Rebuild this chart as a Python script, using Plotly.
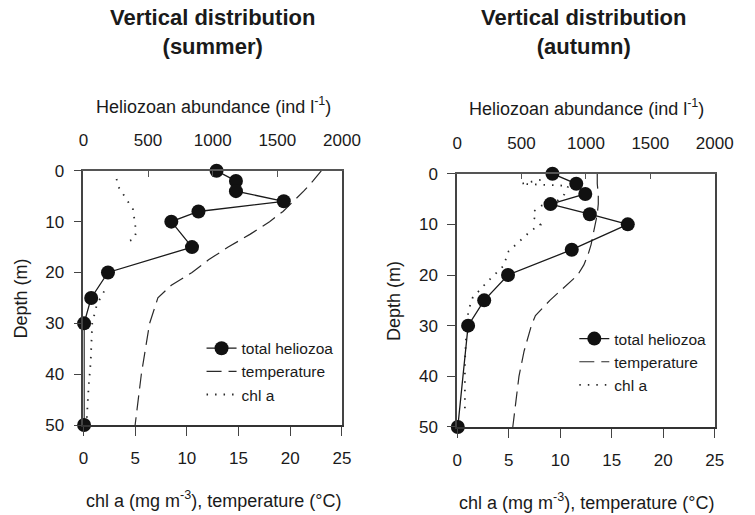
import plotly.graph_objects as go

# ---------------- data ----------------
# Summer
depth_helio_summer = [0, 2, 4, 6, 8, 10, 15, 20, 25, 30, 50]
helio_summer = [1030, 1180, 1180, 1550, 890, 680, 840, 190, 60, 5, 5]

depth_temp_summer = [0, 2, 4, 6, 8, 10, 12.5, 15, 17.5, 20, 22.5, 25, 30, 35, 40, 45, 50]
temp_summer = [23.0, 22.2, 21.3, 20.3, 19.3, 18.0, 16.1, 14.0, 12.1, 10.5, 8.5, 7.2, 6.4, 6.0, 5.6, 5.3, 5.0]

depth_chl_summer = [1.6, 3.2, 7.6, 9.1, 10.6, 12.1, 13.4, 14.1, 20, 23.7, 26.3, 30, 33.8, 37.6, 42.6, 46.4, 49.6]
chl_summer = [3.2, 3.4, 4.8, 4.9, 5.0, 5.1, 4.9, 4.1, None, 2.0, 1.3, 0.85, 0.8, 0.7, 0.5, 0.4, 0.3]

# Autumn
depth_helio_autumn = [0, 2, 4, 6, 8, 10, 15, 20, 25, 30, 50]
helio_autumn = [740, 925, 995, 725, 1030, 1325, 890, 395, 210, 85, 5]

depth_temp_autumn = [0, 2, 4, 6, 8, 10, 12, 14, 16, 18, 20, 22, 25, 28, 30, 35, 40, 45, 50]
temp_autumn = [13.6, 13.6, 13.7, 13.7, 13.6, 13.4, 13.2, 13.0, 12.7, 12.3, 11.7, 10.6, 9.0, 7.6, 7.2, 6.5, 6.0, 5.7, 5.4]

depth_chl_autumn = [1.2, 2.0, 2.4, 4.1, 5.4, 6.3, 7.5, 8.8, 10.1, 11.2, 15.3, 18.2, 21.4, 24.5, 27, 30.8, 37.2, 43.5, 47.3]
chl_autumn = [8.1, 6.2, 10.8, 10.4, 9.7, 8.2, 7.4, 7.5, 8.1, 7.2, 5.0, 4.5, 2.9, 1.5, 1.1, 0.9, 0.75, 0.75, 0.75]

panel_titles = ["Vertical distribution<br>(summer)", "Vertical distribution<br>(autumn)"]
top_title = "Heliozoan abundance (ind l<sup>-1</sup>)"
bottom_title = "chl a (mg m<sup>-3</sup>), temperature (°C)"
y_title = "Depth (m)"
bottom_ticks = [0, 5, 10, 15, 20, 25]
top_ticks = [0, 500, 1000, 1500, 2000]
depth_ticks = [0, 10, 20, 30, 40, 50]

# ---------------- figure ----------------
W, H = 755, 515
FONT = "Liberation Sans, Arial, Helvetica, sans-serif"
INK = "#1a1a1a"

fig = go.Figure()

panels = [
    dict(dh=depth_helio_summer, h=helio_summer, dt=depth_temp_summer, t=temp_summer,
         dc=depth_chl_summer, c=chl_summer, xb="x", xt="x2", y="y", legend="legend"),
    dict(dh=depth_helio_autumn, h=helio_autumn, dt=depth_temp_autumn, t=temp_autumn,
         dc=depth_chl_autumn, c=chl_autumn, xb="x3", xt="x4", y="y2", legend="legend2"),
]

for p in panels:
    fig.add_trace(go.Scatter(
        x=p["h"], y=p["dh"], xaxis=p["xt"], yaxis=p["y"], name="total heliozoa",
        mode="lines+markers", line=dict(color=INK, width=1.3),
        marker=dict(color="#111", size=14, symbol="circle"),
        cliponaxis=False, legend=p["legend"]))
    fig.add_trace(go.Scatter(
        x=p["t"], y=p["dt"], xaxis=p["xb"], yaxis=p["y"], name="temperature",
        mode="lines", line=dict(color="#2a2a2a", width=1.2, dash="15px,7px"),
        legend=p["legend"]))
    fig.add_trace(go.Scatter(
        x=p["c"], y=p["dc"], xaxis=p["xb"], yaxis=p["y"], name="chl a",
        mode="lines", line=dict(color="#2a2a2a", width=1.8, dash="1.5px,7px"),
        connectgaps=False, legend=p["legend"]))

left_x = [81 / W, 348 / W]
right_x = [467 / W, 733 / W]
left_y = [1 - 432 / H, 1 - 168 / H]
right_y = [1 - 434 / H, 1 - 171 / H]

tickfont = dict(family=FONT, size=17, color=INK)

def bottom_axis(domain, anchor):
    return dict(domain=domain, anchor=anchor, range=[0, 25], tickvals=bottom_ticks,
                ticks="outside", ticklen=9, tickcolor="#444", tickwidth=1,
                showline=True, linecolor="#333", linewidth=2, showgrid=False,
                zeroline=False, tickfont=tickfont, ticklabelstandoff=8, fixedrange=True)

def top_axis(domain, anchor, overlay):
    return dict(domain=domain, anchor=anchor, overlaying=overlay, side="top",
                range=[0, 2000], tickvals=top_ticks, ticks="inside", ticklen=6,
                tickcolor="#555", tickwidth=1.2, showline=True, linecolor="#555",
                linewidth=1.5, showgrid=False, zeroline=False, tickfont=tickfont,
                ticklabelstandoff=16, fixedrange=True)

def depth_axis(domain, anchor):
    return dict(domain=domain, anchor=anchor, range=[50, 0], tickvals=depth_ticks,
                ticks="outside", ticklen=8, tickcolor="#444", showline=True,
                linecolor="#444", linewidth=1.5, mirror=True, showgrid=False,
                zeroline=False, tickfont=tickfont, ticklabelstandoff=6, fixedrange=True)

fig.update_layout(
    width=W, height=H, margin=dict(l=0, r=0, t=0, b=0),
    paper_bgcolor="white", plot_bgcolor="white",
    font=dict(family=FONT, color=INK),
    xaxis=bottom_axis(left_x, "y"),
    xaxis2=top_axis(left_x, "y", "x"),
    xaxis3=bottom_axis(right_x, "y2"),
    xaxis4=top_axis(right_x, "y2", "x3"),
    yaxis=depth_axis(left_y, "x"),
    yaxis2=depth_axis(right_y, "x3"),
    legend=dict(x=203 / W, y=1 - 335 / H, xanchor="left", yanchor="top",
                bgcolor="rgba(0,0,0,0)", font=dict(family=FONT, size=15.5, color=INK),
                tracegroupgap=0, itemwidth=30),
    legend2=dict(x=588 / W, y=1 - 325 / H, xanchor="left", yanchor="top",
                 bgcolor="rgba(0,0,0,0)", font=dict(family=FONT, size=15.5, color=INK),
                 tracegroupgap=0, itemwidth=30),
    showlegend=True,
)

annotations = []
for cx, title in zip([214 / W, 598 / W], panel_titles):
    annotations.append(dict(text="<b>" + title.replace("<br>", "</b><br><b>") + "</b>",
                            x=cx, y=1 - 24 / H, xref="paper", yref="paper",
                            xanchor="center", yanchor="middle",
                            showarrow=False, align="center",
                            font=dict(family=FONT, size=22, color=INK)))
for cx, ty, by in [(215 / W, 100, 509), (601 / W, 102, 511)]:
    annotations.append(dict(text=top_title, x=cx, y=1 - ty / H, xref="paper", yref="paper",
                            xanchor="center", yanchor="middle",
                            showarrow=False, font=dict(family=FONT, size=18, color=INK)))
    annotations.append(dict(text=bottom_title, x=cx, y=1 - by / H, xref="paper", yref="paper",
                            xanchor="center", yanchor="middle",
                            showarrow=False, font=dict(family=FONT, size=18, color=INK)))
for cx, cy in [(16 / W, 300), (402 / W, 303)]:
    annotations.append(dict(text=y_title, x=cx, y=1 - cy / H, xref="paper", yref="paper",
                            xanchor="center", yanchor="middle",
                            showarrow=False, textangle=-90,
                            font=dict(family=FONT, size=18, color=INK)))
fig.update_layout(annotations=annotations)

fig.write_html("out.html")
